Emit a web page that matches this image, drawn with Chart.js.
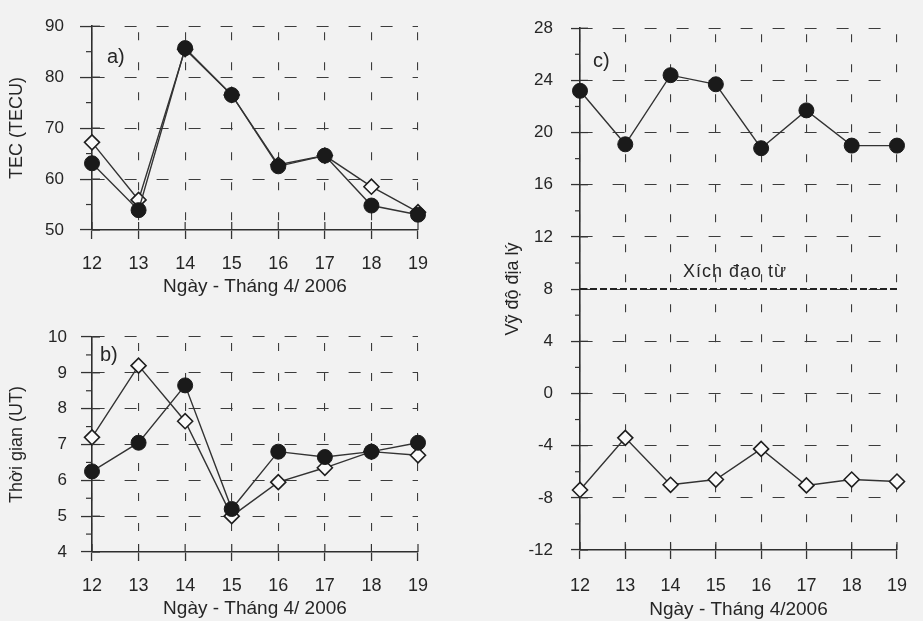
<!DOCTYPE html>
<html><head><meta charset="utf-8">
<script src="https://cdn.jsdelivr.net/npm/chart.js@4"></script>
<style>
html,body{margin:0;padding:0;background:#f2f2f2;}
#wrap{position:relative;width:923px;height:621px;overflow:hidden;background:#f2f2f2;}
canvas{position:absolute;}
</style></head><body>
<div id="wrap">
<canvas id="ca" width="445" height="305" style="left:0;top:0"></canvas>
<canvas id="cb" width="445" height="316" style="left:0;top:305px"></canvas>
<canvas id="cc" width="453" height="621" style="left:470px;top:0"></canvas>
</div>
<script>
// ---- data ----
const days = ['12','13','14','15','16','17','18','19'];
// a) TEC (TECU)
const tecFilled  = [63.1, 53.9, 85.7, 76.5, 62.5, 64.6, 54.8, 53.0];
const tecDiamond = [67.2, 55.9, 85.5, 76.5, 62.8, 64.6, 58.5, 53.5];
// b) Thời gian (UT)
const timeFilled  = [6.25, 7.05, 8.65, 5.2, 6.8, 6.65, 6.8, 7.05];
const timeDiamond = [7.2, 9.2, 7.65, 5.0, 5.95, 6.35, 6.8, 6.7];
// c) Vỹ độ địa lý
const latFilled  = [23.2, 19.1, 24.4, 23.7, 18.8, 21.7, 19.0, 19.0];
const latDiamond = [-7.4, -3.4, -7.0, -6.6, -4.25, -7.05, -6.6, -6.75];
const magneticEquatorLat = 8;
const xTitleAB = 'Ngày - Tháng 4/ 2006';
const xTitleC = 'Ngày - Tháng 4/2006';

const FONT = "'Liberation Sans', Arial, Helvetica, sans-serif";
Chart.defaults.font.family = FONT;
Chart.defaults.color = '#262626';

const decor = {
  id: 'decor',
  afterDraw(chart, args, o) {
    const {ctx, chartArea: ca, scales: {x, y}} = chart;
    const line = (x1, y1, x2, y2) => { ctx.beginPath(); ctx.moveTo(x1, y1); ctx.lineTo(x2, y2); ctx.stroke(); };
    ctx.save();
    ctx.strokeStyle = '#333'; ctx.lineWidth = 1.2; ctx.setLineDash([]);
    const tv = y.ticks.map(t => t.value);
    for (let i = 0; i < tv.length - 1; i++) {
      const py = y.getPixelForValue((tv[i] + tv[i + 1]) / 2);
      line(ca.left - o.minorLen, py, ca.left, py);
    }
    tv.forEach(v => { const py = y.getPixelForValue(v); line(ca.left, py, ca.left + 8, py); });
    for (let i = 0; i < days.length; i++) {
      const px = x.getPixelForValue(i);
      line(px, ca.bottom - 8, px, ca.bottom);
    }
    if (o.equator != null) {
      const py = y.getPixelForValue(o.equator);
      ctx.strokeStyle = '#222'; ctx.lineWidth = 2; ctx.setLineDash([7, 3]);
      line(ca.left, py, ca.right, py);
      ctx.setLineDash([]);
      ctx.fillStyle = '#262626'; ctx.font = '18px ' + FONT;
      ctx.letterSpacing = '1px';
      ctx.textAlign = 'left'; ctx.textBaseline = 'alphabetic';
      ctx.fillText('Xích đạo từ', ca.left + 103, py - 12);
      ctx.letterSpacing = '0px';
    }
    ctx.fillStyle = '#262626'; ctx.font = '20px ' + FONT;
    ctx.textAlign = 'left'; ctx.textBaseline = 'middle';
    ctx.fillText(o.letter, ca.left + o.letterDx, ca.top + o.letterDy);
    ctx.restore();
  }
};

function filledSet(data) {
  return { data, borderColor: '#333', borderWidth: 1.4, tension: 0, fill: false,
    pointStyle: 'circle', pointRadius: 7.5, pointBackgroundColor: '#1a1a1a',
    pointBorderColor: '#1a1a1a', pointBorderWidth: 1 };
}
function diamondSet(data) {
  return { data, borderColor: '#333', borderWidth: 1.4, tension: 0, fill: false,
    pointStyle: 'rectRot', pointRadius: 7.5, pointBackgroundColor: '#fafafa',
    pointBorderColor: '#1e1e1e', pointBorderWidth: 1.6 };
}

function panel(id, p) {
  return new Chart(document.getElementById(id), {
    type: 'line',
    data: { labels: days, datasets: p.datasets },
    options: {
      responsive: false, animation: false, events: [],
      layout: { padding: p.padding },
      plugins: { legend: { display: false }, tooltip: { enabled: false }, decor: p.decor },
      scales: {
        x: {
          type: 'category', offset: false,
          grid: { color: '#3c3c3c', lineWidth: 1.1, tickLength: 9, tickColor: '#333', tickWidth: 1.3 },
          border: { display: true, color: '#2e2e2e', width: 1.6, dash: [8, 22], dashOffset: -6 },
          ticks: { autoSkip: false, maxRotation: 0, padding: p.xTickPad, font: { size: 18 }, color: '#262626' },
          title: { display: true, text: p.xTitle, font: { size: 19 }, color: '#262626', padding: { top: 0, bottom: p.xTitlePad } },
          afterFit: s => { s.height = p.xHeight; }
        },
        y: {
          min: p.yMin, max: p.yMax,
          grid: { color: '#3c3c3c', lineWidth: 1.1, tickLength: p.yTickLen, tickColor: '#333', tickWidth: 1.3 },
          border: { display: true, color: '#2e2e2e', width: 1.6, dash: [12, 20] },
          ticks: { stepSize: p.yStep, padding: p.yTickPad, font: { size: 17 }, color: '#262626' },
          title: { display: true, text: p.yTitle, font: { size: 18 }, color: '#262626', padding: { top: p.yTitlePad, bottom: 0 } },
          afterFit: s => { s.width = p.yWidth; }
        }
      }
    },
    plugins: [decor]
  });
}

panel('ca', {
  datasets: [filledSet(tecFilled), diamondSet(tecDiamond)],
  padding: { left: 0, top: 14, right: 27, bottom: 0 },
  xHeight: 75, xTickPad: 14, xTitle: xTitleAB, xTitlePad: 6.5,
  yMin: 50, yMax: 90, yStep: 10, yTickLen: 12, yTickPad: 16, yWidth: 92,
  yTitle: 'TEC (TECU)', yTitlePad: 6,
  decor: { minorLen: 6, letter: 'a)', letterDx: 15, letterDy: 31 }
});

panel('cb', {
  datasets: [filledSet(timeFilled), diamondSet(timeDiamond)],
  padding: { left: 0, top: 32, right: 27, bottom: 0 },
  xHeight: 69, xTickPad: 14, xTitle: xTitleAB, xTitlePad: 0.5,
  yMin: 4, yMax: 10, yStep: 1, yTickLen: 11, yTickPad: 14, yWidth: 92,
  yTitle: 'Thời gian (UT)', yTitlePad: 6,
  decor: { minorLen: 6, letter: 'b)', letterDx: 8, letterDy: 18 }
});

panel('cc', {
  datasets: [filledSet(latFilled), diamondSet(latDiamond)],
  padding: { left: 0, top: 13, right: 16, bottom: 0 },
  xHeight: 71, xTickPad: 16, xTitle: xTitleC, xTitlePad: 0,
  yMin: -12, yMax: 28, yStep: 4, yTickLen: 9, yTickPad: 18, yWidth: 110,
  yTitle: 'Vỹ độ địa lý', yTitlePad: 32,
  decor: { minorLen: 5, letter: 'c)', letterDx: 13, letterDy: 33, equator: magneticEquatorLat }
});
</script>
</body></html>
